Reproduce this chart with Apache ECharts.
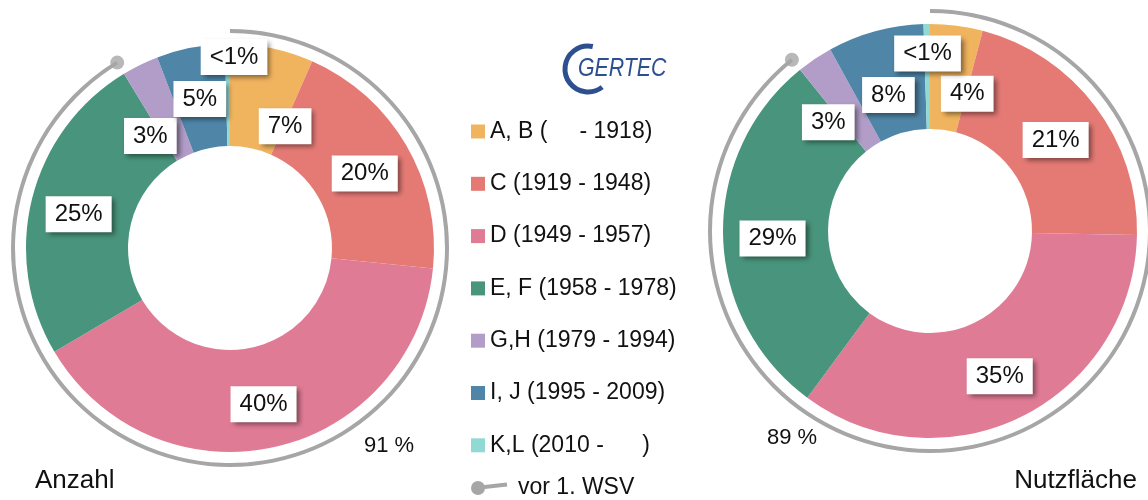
<!DOCTYPE html>
<html>
<head>
<meta charset="utf-8">
<script src="https://cdn.jsdelivr.net/npm/echarts@6/dist/echarts.min.js"></script>
<style>
html,body{margin:0;padding:0;background:#fff;}
#chart{width:1148px;height:500px;}
</style>
</head>
<body>
<div id="chart"></div>
<script>
// ---- data ----
const categories = ['A, B (     - 1918)', 'C (1919 - 1948)', 'D (1949 - 1957)', 'E, F (1958 - 1978)', 'G,H (1979 - 1994)', 'I, J (1995 - 2009)', 'K,L (2010 -      )'];
const anzahlValues = [6.6, 20.0, 39.9, 24.8, 2.9, 5.4, 0.4];      // % Anzahl
const nutzflaecheValues = [4.1, 21.2, 34.8, 29.1, 2.8, 7.5, 0.5]; // % Nutzfläche
const preWsvCount = 4;            // first four classes are built before 1. WSV
const chartTitles = ['Anzahl', 'Nutzfläche'];
const wsvName = 'vor 1. WSV';

// ---- styles ----
const colors = ['#F0B45F', '#E57A75', '#E07B96', '#49947C', '#B29DC8', '#4F86A8', '#91DAD4'];
const gray = '#A6A6A6';
const FONT = '"Liberation Sans", Arial, Helvetica, sans-serif';

function fmt(v) { return v < 1 ? '<1%' : Math.round(v) + '%'; }
function sumPre(vals) { let s = 0; for (let i = 0; i < preWsvCount; i++) s += vals[i]; return s; }

const charts = [
  { vals: anzahlValues, center: [230, 248], radius: [102, 204], ring: [215, 219], dotR: 217,
    offsets: { 0: [23, 27], 4: [-11, 24], 6: [6, -39] } },
  { vals: nutzflaecheValues, center: [930, 231], radius: [102, 207], ring: [218, 222], dotR: 220,
    offsets: { 0: [17, 15], 4: [-14, 18], 5: [0, 12], 6: [0, -24] } }
];
const labelBaseDy = 4;

const labelStyle = {
  show: true, position: 'inside', color: '#111', fontFamily: FONT, fontSize: 24, lineHeight: 24,
  backgroundColor: '#fff', padding: [6, 9],
  shadowColor: 'rgba(0,0,0,0.45)', shadowBlur: 5, shadowOffsetX: 3, shadowOffsetY: 3,
  formatter: p => fmt(p.value)
};

const series = [];
const polar = [], angleAxis = [], radiusAxis = [];
charts.forEach((c, ci) => {
  series.push({
    type: 'pie', name: chartTitles[ci], center: c.center, radius: c.radius,
    startAngle: 90, clockwise: true, avoidLabelOverlap: false, silent: true,
    itemStyle: { borderWidth: 0 },
    label: labelStyle, labelLine: { show: false },
    labelLayout: p => { const o = c.offsets[p.dataIndex] || [0, 0]; return { dx: o[0], dy: o[1] + labelBaseDy }; },
    data: categories.map((n, i) => ({ name: n, value: c.vals[i], itemStyle: { color: colors[i] } })),
    z: 2
  });
  const pre = sumPre(c.vals);
  series.push({
    type: 'pie', name: wsvName + ci, center: c.center, radius: c.ring,
    startAngle: 90, clockwise: true, silent: true, label: { show: false }, labelLine: { show: false },
    itemStyle: { borderWidth: 0 },
    data: [
      { name: wsvName, value: pre, itemStyle: { color: gray } },
      { name: '', value: 100 - pre, itemStyle: { color: 'rgba(0,0,0,0)' } }
    ],
    z: 1
  });
  polar.push({ center: c.center, radius: [0, c.dotR] });
  angleAxis.push({ polarIndex: ci, type: 'value', min: 0, max: 100, startAngle: 90, clockwise: true, show: false });
  radiusAxis.push({ polarIndex: ci, type: 'value', min: 0, max: 1, show: false });
  series.push({
    type: 'scatter', coordinateSystem: 'polar', polarIndex: ci, silent: true,
    symbol: 'circle', symbolSize: 14, itemStyle: { color: gray },
    data: [[1, pre]], z: 3
  });
});

const pctLabels = charts.map(c => Math.round(sumPre(c.vals)) + ' %');

const chart = echarts.init(document.getElementById('chart'), null, { renderer: 'canvas' });
chart.setOption({
  animation: false,
  backgroundColor: '#fff',
  textStyle: { fontFamily: FONT },
  polar, angleAxis, radiusAxis,
  legend: {
    data: categories, orient: 'vertical', left: 466, top: 115, padding: 5,
    itemWidth: 14, itemHeight: 14, itemGap: 29.3, icon: 'rect', selectedMode: false,
    textStyle: { fontFamily: FONT, fontSize: 23, lineHeight: 22, color: '#111' }
  },
  graphic: [
    // GERTEC logo
    { type: 'arc', shape: { cx: 588, cy: 69, r: 23, startAngle: 52 * Math.PI / 180, endAngle: 282 * Math.PI / 180, clockwise: true },
      style: { stroke: '#2E4F8F', lineWidth: 5, fill: null }, silent: true },
    { type: 'text', x: 578, y: 56, scaleX: 0.82, silent: true,
      style: { text: 'GERTEC', fill: '#2E4F8F', font: 'italic 26px "Liberation Sans", Arial, sans-serif' } },
    // percent of pre-WSV
    { type: 'text', x: 389, y: 446, silent: true,
      style: { text: pctLabels[0], fill: '#111', font: '22px ' + FONT, align: 'center', verticalAlign: 'middle' } },
    { type: 'text', x: 792, y: 438, silent: true,
      style: { text: pctLabels[1], fill: '#111', font: '22px ' + FONT, align: 'center', verticalAlign: 'middle' } },
    // titles
    { type: 'text', x: 35, y: 481, silent: true,
      style: { text: chartTitles[0], fill: '#111', font: '26px ' + FONT, align: 'left', verticalAlign: 'middle' } },
    { type: 'text', x: 1137, y: 481, silent: true,
      style: { text: chartTitles[1], fill: '#111', font: '26px ' + FONT, align: 'right', verticalAlign: 'middle' } },
    // legend entry for the arc
    { type: 'line', shape: { x1: 480, y1: 487.5, x2: 507, y2: 484.5 }, style: { stroke: gray, lineWidth: 4 }, silent: true },
    { type: 'circle', shape: { cx: 478, cy: 488, r: 7 }, style: { fill: gray }, silent: true },
    { type: 'text', x: 518, y: 488, silent: true,
      style: { text: wsvName, fill: '#111', font: '23px ' + FONT, align: 'left', verticalAlign: 'middle' } }
  ],
  series
});
</script>
</body>
</html>
